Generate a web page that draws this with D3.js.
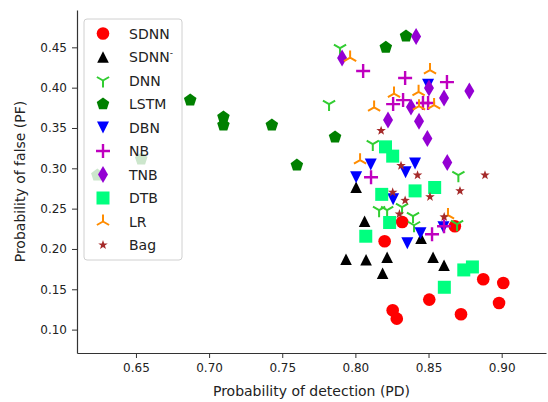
<!DOCTYPE html>
<html>
<head>
<meta charset="utf-8">
<script src="https://cdn.jsdelivr.net/npm/d3@7"></script>
<style>
  body { margin: 0; background: #fff; }
  text { font-family: "DejaVu Sans", sans-serif; }
</style>
</head>
<body>
<div id="chart"></div>
<script>
// [PD, PF] pairs, one array per model
const sdnn = [[0.832, 0.2335], [0.820, 0.2096], [0.868, 0.2282], [0.8874, 0.1624], [0.9011, 0.1578],
  [0.8505, 0.1372], [0.8982, 0.133], [0.8722, 0.119], [0.8255, 0.124], [0.8283, 0.1136]];
const sdnnMinus = [[0.8005, 0.2766], [0.8063, 0.2344], [0.7936, 0.1872], [0.8073, 0.1866], [0.8217, 0.1897],
  [0.8186, 0.1699], [0.8531, 0.1897], [0.8606, 0.1798], [0.8449, 0.2133]];
const dnn = [[0.782, 0.3796], [0.7895, 0.449], [0.8119, 0.330], [0.8704, 0.2915], [0.8162, 0.2481],
  [0.8217, 0.2481], [0.8394, 0.2406], [0.8401, 0.2294], [0.8695, 0.2307], [0.8319, 0.2518]];
const lstm = [[0.6236, 0.2915], [0.6536, 0.3114], [0.6871, 0.3846], [0.7098, 0.3635], [0.7098, 0.3536],
  [0.7429, 0.3536], [0.760, 0.3039], [0.7861, 0.3387], [0.8208, 0.450], [0.8346, 0.464]];
const dbn = [[0.8105, 0.3048], [0.8005, 0.289], [0.8408, 0.306], [0.8343, 0.2952], [0.8258, 0.2617],
  [0.8445, 0.2195], [0.8355, 0.2071], [0.8602, 0.227], [0.8497, 0.4035]];
const nb = [[0.8053, 0.4206], [0.834, 0.4119], [0.8626, 0.4069], [0.8258, 0.3796], [0.8326, 0.3846],
  [0.8462, 0.3809], [0.8497, 0.3809], [0.8107, 0.289], [0.8524, 0.2183], [0.8606, 0.2282]];
const tnb = [[0.7909, 0.4367], [0.8415, 0.4634], [0.8223, 0.3598], [0.838, 0.3759], [0.8503, 0.3995],
  [0.8606, 0.3871], [0.8779, 0.3958], [0.8435, 0.3585], [0.8492, 0.3371], [0.8628, 0.3073]];
const dtb = [[0.8206, 0.3266], [0.8255, 0.3151], [0.818, 0.2677], [0.8408, 0.272], [0.8542, 0.2762],
  [0.8234, 0.2328], [0.8071, 0.2158], [0.8741, 0.174], [0.880, 0.1777], [0.8608, 0.1525]];
const lr = [[0.7964, 0.4373], [0.851, 0.4218], [0.8264, 0.3927], [0.8432, 0.3949], [0.8128, 0.3755],
  [0.8435, 0.3771], [0.8538, 0.3784], [0.8032, 0.3101], [0.8633, 0.242]];
const bag = [[0.8176, 0.3467], [0.8312, 0.3033], [0.8425, 0.2915], [0.8886, 0.2915], [0.8715, 0.272],
  [0.851, 0.2646], [0.8255, 0.2702], [0.834, 0.2601], [0.8301, 0.2433], [0.8607, 0.2397]];

const xTicks = [0.65, 0.70, 0.75, 0.80, 0.85, 0.90];
const yTicks = [0.10, 0.15, 0.20, 0.25, 0.30, 0.35, 0.40, 0.45];

const series = [
  { name: "SDNN", data: sdnn, marker: "circle", color: "#ff0000" },
  { name: "SDNN", sup: "-", data: sdnnMinus, marker: "triUp", color: "#000000" },
  { name: "DNN", data: dnn, marker: "yDown", color: "#32cd32" },
  { name: "LSTM", data: lstm, marker: "pentagon", color: "#008000" },
  { name: "DBN", data: dbn, marker: "triDown", color: "#0000ff" },
  { name: "NB", data: nb, marker: "plus", color: "#bf00bf" },
  { name: "TNB", data: tnb, marker: "diamond", color: "#9400d3" },
  { name: "DTB", data: dtb, marker: "square", color: "#00ff7f" },
  { name: "LR", data: lr, marker: "yUp", color: "#ff8c00" },
  { name: "Bag", data: bag, marker: "star", color: "#a52a2a" }
];

const width = 548, height = 402;
const margin = { top: 10, right: 2, bottom: 49, left: 77 };

// polygon helper
const poly = pts => "M" + pts.map(p => p.join(",")).join("L") + "Z";

const markers = {
  circle: () => d3.symbol(d3.symbolCircle, 125)(),
  triUp: () => poly([[0, -5.8], [-5.8, 5.8], [5.8, 5.8]]),
  triDown: () => poly([[0, 6], [-6, -6], [6, -6]]),
  pentagon: () => poly(d3.range(5).map(i => {
    const a = -Math.PI / 2 + i * 2 * Math.PI / 5;
    return [6.6 * Math.cos(a), 6.6 * Math.sin(a)];
  })),
  diamond: () => poly([[0, -8.5], [5, 0], [0, 8.5], [-5, 0]]),
  square: () => poly([[-6.5, -6.5], [6.5, -6.5], [6.5, 6.5], [-6.5, 6.5]]),
  star: () => poly(d3.range(10).map(i => {
    const a = -Math.PI / 2 + i * Math.PI / 5;
    const r = i % 2 ? 2.0 : 5.0;
    return [r * Math.cos(a), r * Math.sin(a)];
  })),
  plus: () => "M-7,0L7,0M0,-7L0,7",
  yDown: () => "M0,0L0,7M0,0L-6.1,-3.5M0,0L6.1,-3.5",
  yUp: () => "M0,0L0,-7M0,0L-6.1,3.5M0,0L6.1,3.5"
};
const stroked = new Set(["plus", "yDown", "yUp"]);

const svg = d3.select("#chart").append("svg")
  .attr("width", width)
  .attr("height", height);

const x = d3.scaleLinear().domain([0.6097, 0.9303]).range([margin.left, width - margin.right]);
const y = d3.scaleLinear().domain([0.0710, 0.4963]).range([height - margin.bottom, margin.top]);

// axes
const xAxis = svg.append("g")
  .attr("transform", `translate(0,${height - margin.bottom})`)
  .call(d3.axisBottom(x).tickValues(xTicks).tickFormat(d3.format(".2f")).tickSize(5).tickPadding(5).tickSizeOuter(0));
const yAxis = svg.append("g")
  .attr("transform", `translate(${margin.left},0)`)
  .call(d3.axisLeft(y).tickValues(yTicks).tickFormat(d3.format(".2f")).tickSize(5).tickPadding(5).tickSizeOuter(0));

[xAxis, yAxis].forEach(g => {
  g.select(".domain").attr("stroke", "#333").attr("stroke-width", 1.2);
  g.selectAll(".tick line").attr("stroke", "#333");
  g.selectAll(".tick text").attr("font-size", 12).attr("fill", "#222")
    .attr("font-family", "DejaVu Sans, sans-serif");
});

svg.append("text")
  .attr("x", (margin.left + width - margin.right) / 2)
  .attr("y", 396)
  .attr("text-anchor", "middle")
  .attr("font-size", 14)
  .attr("fill", "#222")
  .text("Probability of detection (PD)");

svg.append("text")
  .attr("transform", `translate(25,${(margin.top + height - margin.bottom) / 2}) rotate(-90)`)
  .attr("text-anchor", "middle")
  .attr("font-size", 14)
  .attr("fill", "#222")
  .text("Probability of false (PF)");

// points, drawn in series order
series.forEach(s => {
  const isStroke = stroked.has(s.marker);
  svg.append("g").selectAll("path")
    .data(s.data)
    .join("path")
    .attr("transform", d => `translate(${x(d[0])},${y(d[1])})`)
    .attr("d", markers[s.marker]())
    .attr("fill", isStroke ? "none" : s.color)
    .attr("stroke", isStroke ? s.color : "none")
    .attr("stroke-width", isStroke ? (s.marker === "plus" ? 2.4 : 2) : 0);
});

// legend
const legend = svg.append("g");
legend.append("rect")
  .attr("x", 84).attr("y", 19)
  .attr("width", 98).attr("height", 241)
  .attr("rx", 3)
  .attr("fill", "white").attr("fill-opacity", 0.8)
  .attr("stroke", "#d0d0d0");

const rows = legend.selectAll("g.row")
  .data(series)
  .join("g")
  .attr("class", "row")
  .attr("transform", (d, i) => `translate(0,${33.5 + i * 23.5})`);

rows.append("path")
  .attr("transform", "translate(103,0)")
  .attr("d", d => markers[d.marker]())
  .attr("fill", d => stroked.has(d.marker) ? "none" : d.color)
  .attr("stroke", d => stroked.has(d.marker) ? d.color : "none")
  .attr("stroke-width", d => d.marker === "plus" ? 2.4 : 2);

const labels = rows.append("text")
  .attr("x", 129)
  .attr("y", 5)
  .attr("font-size", 14)
  .attr("fill", "#222")
  .text(d => d.name);
labels.filter(d => d.sup)
  .append("tspan")
  .attr("dy", -6)
  .attr("font-size", 9)
  .text(d => d.sup);
</script>
</body>
</html>
